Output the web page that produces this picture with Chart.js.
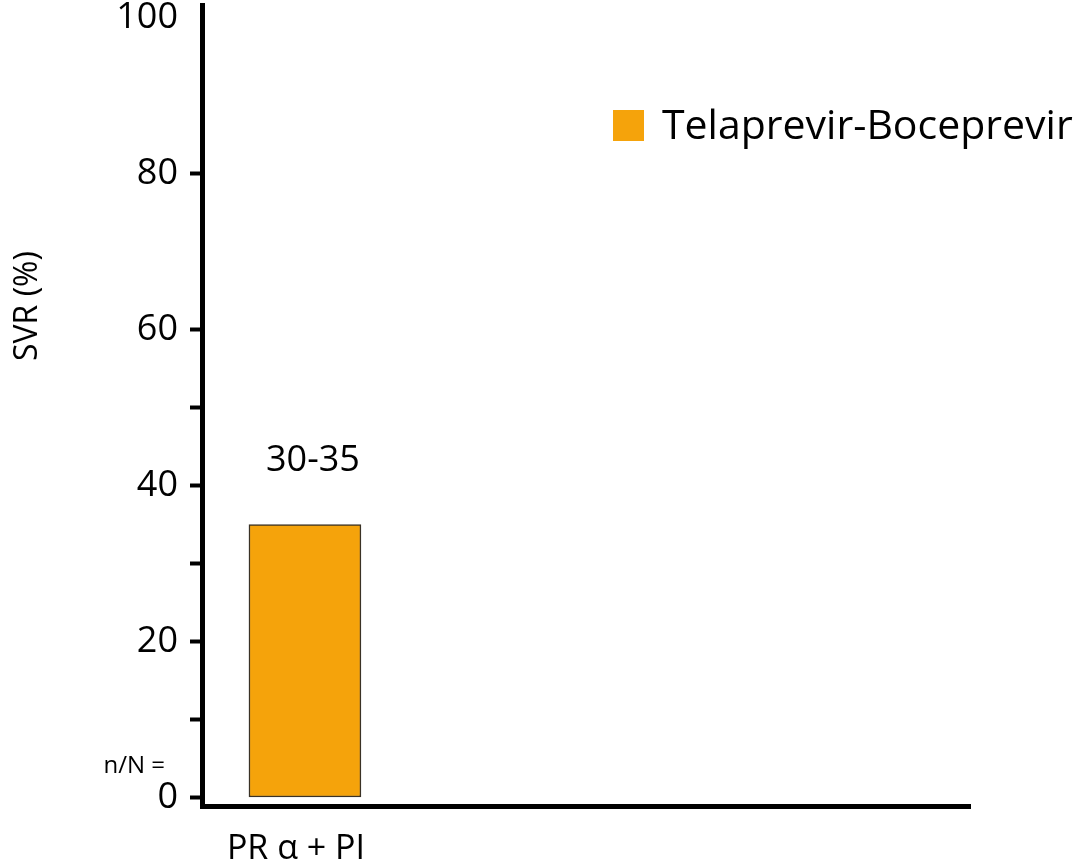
<!DOCTYPE html>
<html>
<head>
<meta charset="utf-8">
<script src="https://cdn.jsdelivr.net/npm/chart.js@4"></script>
<style>
  html, body { margin: 0; padding: 0; background: #ffffff; }
  #wrap { width: 1080px; height: 865px; }
</style>
</head>
<body>
<div id="wrap"><canvas id="chart" width="1080" height="865"></canvas></div>
<script>
// Treatment groups and sustained virological response (%)
const categories = ['PR α + PI'];
const seriesName = 'Telaprevir-Boceprevir';
const svrValues = [35];
const svrLabels = ['30-35'];

// Y axis tick values; only multiples of 20 carry a label
const yTickValues = [0, 10, 20, 30, 40, 50, 60, 80, 100];
const yLabelledTicks = [0, 20, 40, 60, 80, 100];
const yUnmarkedTicks = [100];

const ORANGE = '#F5A30B';
const FONT = '"Open Sans", sans-serif';

// Value labels above bars, axis title, n/N row label and legend
const annotations = {
  id: 'annotations',
  afterDatasetsDraw(chart) {
    const ctx = chart.ctx;
    const meta = chart.getDatasetMeta(0);
    ctx.save();
    ctx.fillStyle = '#000';
    ctx.textAlign = 'center';
    ctx.textBaseline = 'middle';
    ctx.font = '36px ' + FONT;
    meta.data.forEach((bar, i) => {
      ctx.fillText(svrLabels[i], bar.x + 8, bar.y - 64);
    });

    // y axis title
    ctx.save();
    ctx.translate(28, 306);
    ctx.rotate(-Math.PI / 2);
    ctx.font = '32px ' + FONT;
    ctx.fillText('SVR (%)', 0, 0);
    ctx.restore();

    // n/N row label
    ctx.font = '24px ' + FONT;
    ctx.textAlign = 'right';
    ctx.fillText('n/N =', 165, 766);

    // legend
    const ds = chart.data.datasets[0];
    ctx.fillStyle = ds.backgroundColor;
    ctx.fillRect(613, 110, 31, 31);
    ctx.fillStyle = '#000';
    ctx.textAlign = 'left';
    ctx.font = '41px ' + FONT;
    ctx.fillText(ds.label, 662, 127);
    ctx.restore();
  }
};

new Chart(document.getElementById('chart'), {
  type: 'bar',
  data: {
    datasets: [{
      label: seriesName,
      data: svrValues.map((v, i) => ({ x: i, y: v })),
      backgroundColor: ORANGE,
      borderColor: '#3a3226',
      borderWidth: 1.5,
      borderSkipped: false,
      barThickness: 112
    }]
  },
  options: {
    responsive: false,
    animation: false,
    layout: { padding: { left: 0, right: 110, top: 5, bottom: 0 } },
    plugins: {
      legend: { display: false },
      tooltip: { enabled: false }
    },
    scales: {
      x: {
        type: 'linear',
        offset: false,
        min: -0.5,
        max: 3.23,
        afterBuildTicks: s => { s.ticks = categories.map((c, i) => ({ value: i })); },
        afterFit: s => { s.height = 59; s.paddingLeft = 0; s.paddingRight = 0; },
        grid: { display: false },
        border: { display: true, color: '#000', width: 5 },
        ticks: {
          color: '#000',
          padding: 15,
          maxRotation: 0,
          labelOffset: -9,
          font: { family: FONT, size: 34 },
          callback: v => categories[v] ?? ''
        }
      },
      y: {
        type: 'linear',
        min: -1.09,
        max: 101.67,
        afterBuildTicks: s => { s.ticks = yTickValues.map(v => ({ value: v })); },
        afterFit: s => { s.width = 202; s.paddingTop = 0; s.paddingBottom = 0; },
        grid: {
          display: true,
          drawOnChartArea: false,
          drawTicks: true,
          tickLength: 12,
          tickWidth: 4,
          tickColor: c => (c.tick && yUnmarkedTicks.includes(c.tick.value)) ? 'rgba(0,0,0,0)' : '#000'
        },
        border: { display: true, color: '#000', width: 5 },
        ticks: {
          color: '#000',
          padding: 12,
          font: { family: FONT, size: 36 },
          callback: v => yLabelledTicks.includes(v) ? String(v) : ''
        }
      }
    }
  },
  plugins: [annotations]
});
</script>
</body>
</html>
